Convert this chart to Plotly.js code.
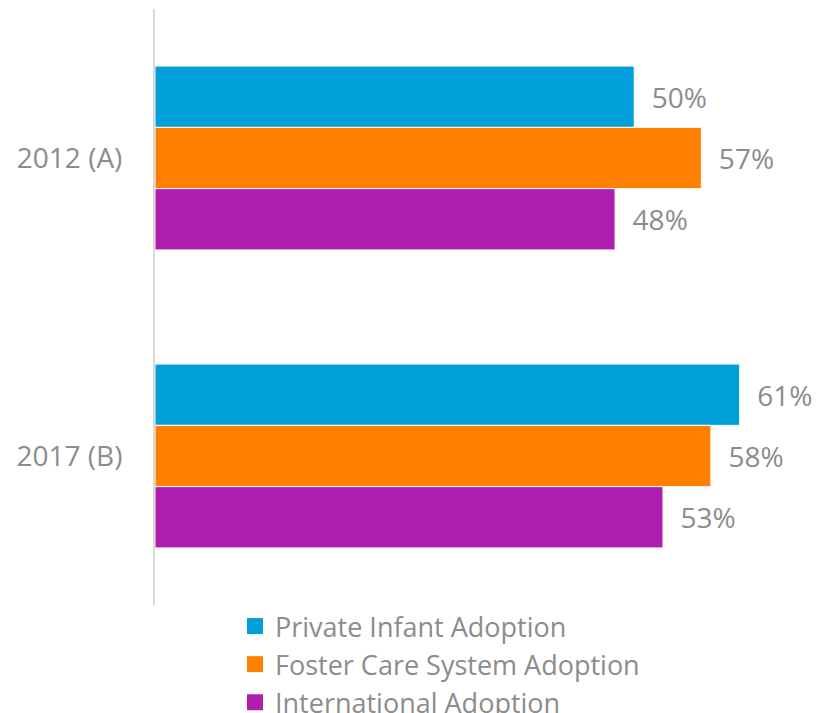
<!DOCTYPE html>
<html>
<head>
<meta charset="utf-8">
<script src="https://cdn.plot.ly/plotly-3.0.1.min.js"></script>
<style>
  html, body { margin: 0; padding: 0; background: #fff; }
  #chart { width: 821px; height: 713px; }
</style>
</head>
<body>
<div id="chart"></div>
<script>
// Data
const years = ["2012 (A)", "2017 (B)"];
const seriesNames = ["Private Infant Adoption", "Foster Care System Adoption", "International Adoption"];
const privateInfant = [50, 61];
const fosterCare = [57, 58];
const international = [48, 53];

const colors = ["#009fda", "#ff8000", "#b01eaf"];
const gray = "#8c8c8c";
const font = "Open Sans, sans-serif";

const values = [privateInfant, fosterCare, international];

const traces = [];
values.forEach((vals, i) => {
    traces.push({
        type: "bar",
        orientation: "h",
        y: years,
        x: vals,
        name: seriesNames[i],
        showlegend: false,
        marker: { color: colors[i], line: { color: "#ffffff", width: 1 } },
        text: vals.map(v => "  " + v + "%"),
        textposition: "outside",
        cliponaxis: false,
        textfont: { family: font, size: 28, color: gray },
        hoverinfo: "skip"
    });
});

// legend-only entries, with larger square keys
values.forEach((vals, i) => {
    traces.push({
        type: "scatter",
        mode: "markers",
        x: [null],
        y: [null],
        name: seriesNames[i],
        marker: { symbol: "square", size: 16, color: colors[i] },
        hoverinfo: "skip"
    });
});

const layout = {
    width: 821,
    height: 713,
    paper_bgcolor: "#ffffff",
    plot_bgcolor: "#ffffff",
    margin: { l: 155, r: 43, t: 9, b: 108, autoexpand: false },
    barmode: "group",
    bargap: 0.383,
    bargroupgap: 0,
    font: { family: font, color: gray },
    xaxis: {
        range: [0, 65],
        showgrid: false,
        zeroline: false,
        showticklabels: false,
        showline: false,
        automargin: false,
        fixedrange: true
    },
    yaxis: {
        autorange: "reversed",
        showgrid: false,
        zeroline: false,
        showline: true,
        linecolor: "#d9d9d9",
        linewidth: 2,
        ticks: "",
        automargin: false,
        ticklabelstandoff: 25,
        tickfont: { family: font, size: 28, color: gray }
    },
    showlegend: true,
    legend: {
        orientation: "v",
        xref: "paper",
        yref: "paper",
        x: 0.1284,
        xanchor: "left",
        y: 0.005,
        yanchor: "top",
        font: { family: font, size: 27, color: gray },
        bgcolor: "rgba(0,0,0,0)",
        traceorder: "normal"
    }
};

Plotly.newPlot("chart", traces, layout, { displayModeBar: false, staticPlot: true });
</script>
</body>
</html>
